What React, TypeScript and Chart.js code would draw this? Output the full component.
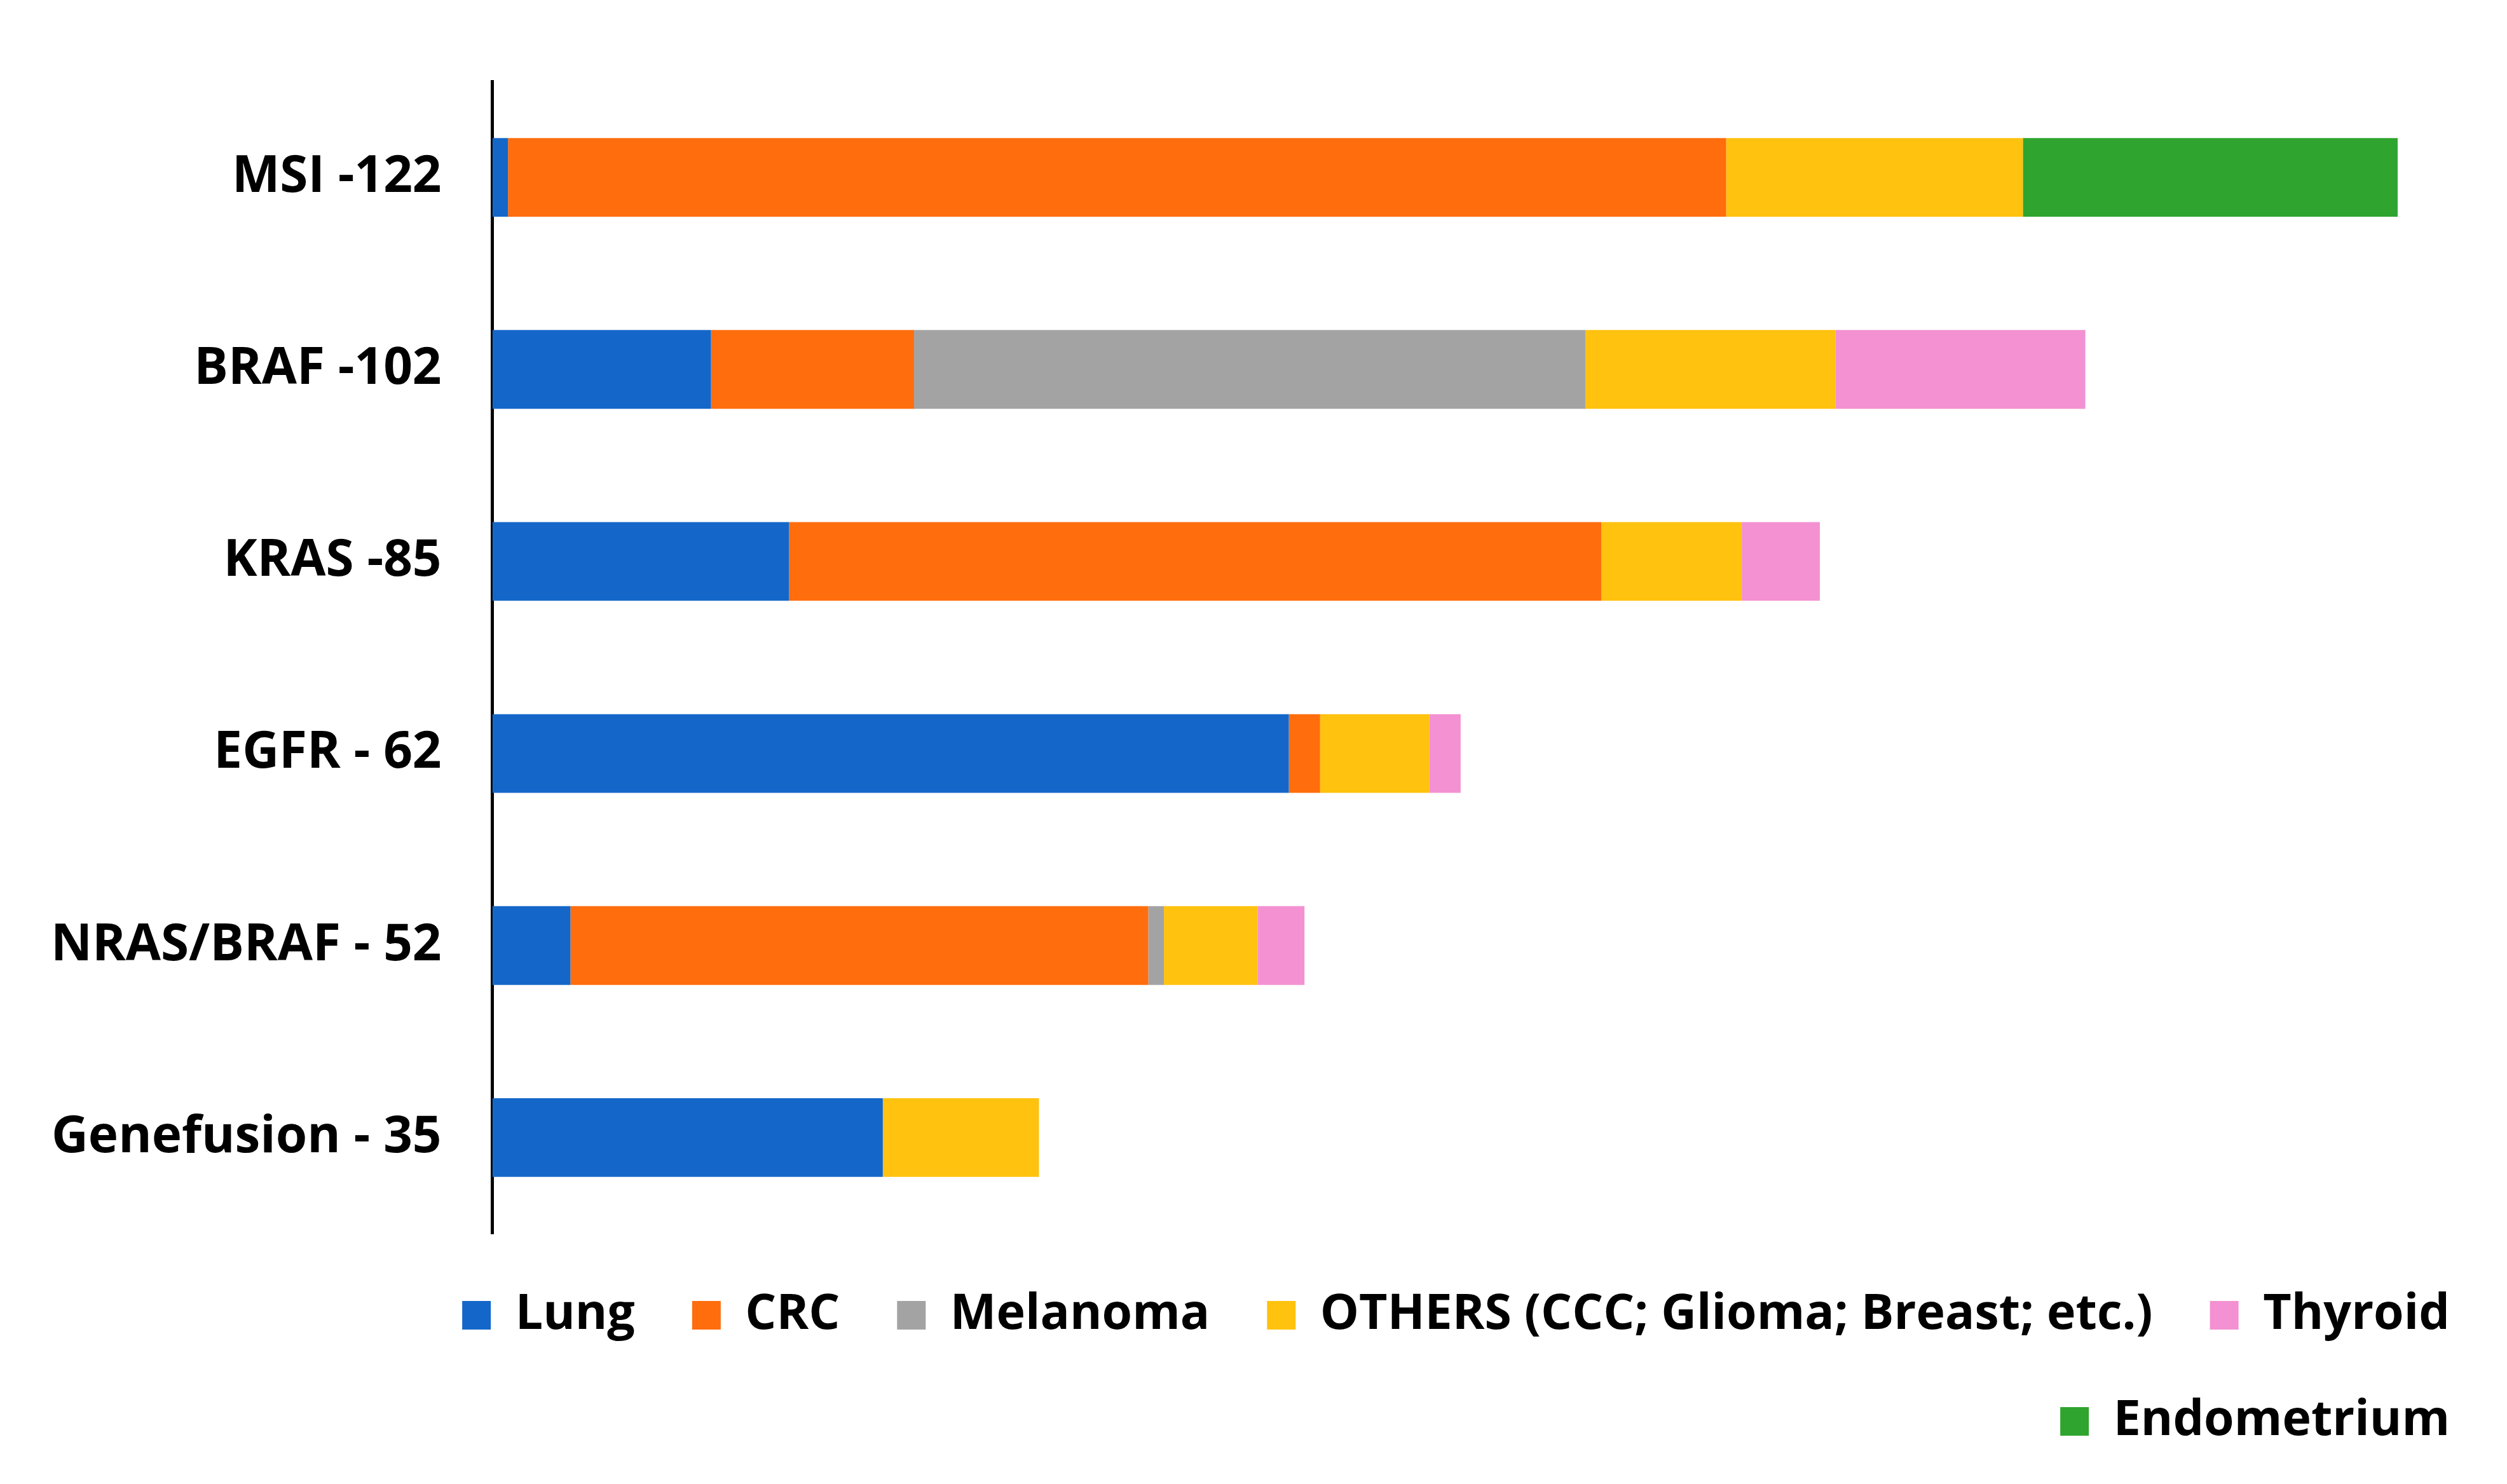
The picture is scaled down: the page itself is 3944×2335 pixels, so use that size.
import React, { useEffect, useRef } from "react";
import { Chart, registerables } from "chart.js";
Chart.register(...registerables);

const categories = ["MSI -122", "BRAF -102", "KRAS -85", "EGFR - 62", "NRAS/BRAF - 52", "Genefusion - 35"];
const seriesNames = ["Lung", "CRC", "Melanoma", "OTHERS (CCC; Glioma; Breast; etc.)", "Thyroid", "Endometrium"];
const lung = [1, 14, 19, 51, 5, 25];
const crc = [78, 13, 52, 2, 37, 0];
const melanoma = [0, 43, 0, 0, 1, 0];
const others = [19, 16, 9, 7, 6, 10];
const thyroid = [0, 16, 5, 2, 3, 0];
const endometrium = [24, 0, 0, 0, 0, 0];
const colors = ["#1467C9", "#FF6D0D", "#A3A3A3", "#FFC20E", "#F391D2", "#2FA52F"];

export default function App() {
  const ref = useRef<HTMLCanvasElement>(null);
  useEffect(() => {
    document.body.style.margin = "0";
    const values = [lung, crc, melanoma, others, thyroid, endometrium];
    const chart = new Chart(ref.current!, {
      type: "bar",
      data: {
        labels: categories,
        datasets: seriesNames.map((n, i) => ({
          label: n,
          data: values[i],
          backgroundColor: colors[i],
          categoryPercentage: 0.41,
          barPercentage: 1,
        })),
      },
      options: {
        indexAxis: "y",
        animation: false,
        responsive: false,
        layout: { padding: { top: 50, left: 0, right: 0, bottom: 50 } },
        scales: {
          x: { stacked: true, min: 0, max: 129, display: false },
          y: {
            stacked: true,
            grid: { display: false, drawTicks: false },
            border: { display: true, color: "#000", width: 5 },
            ticks: { color: "#000", padding: 80, font: { family: "Open Sans", weight: "bold", size: 80 } },
          },
        },
        plugins: {
          tooltip: { enabled: false },
          legend: {
            position: "bottom",
            align: "end",
            labels: {
              color: "#000",
              boxWidth: 45,
              boxHeight: 45,
              padding: 90,
              font: { family: "Open Sans", weight: "bold", size: 77 },
            },
          },
        },
      },
    });
    return () => chart.destroy();
  }, []);
  return <canvas ref={ref} width={3944} height={2335} style={{ display: "block" }} />;
}
